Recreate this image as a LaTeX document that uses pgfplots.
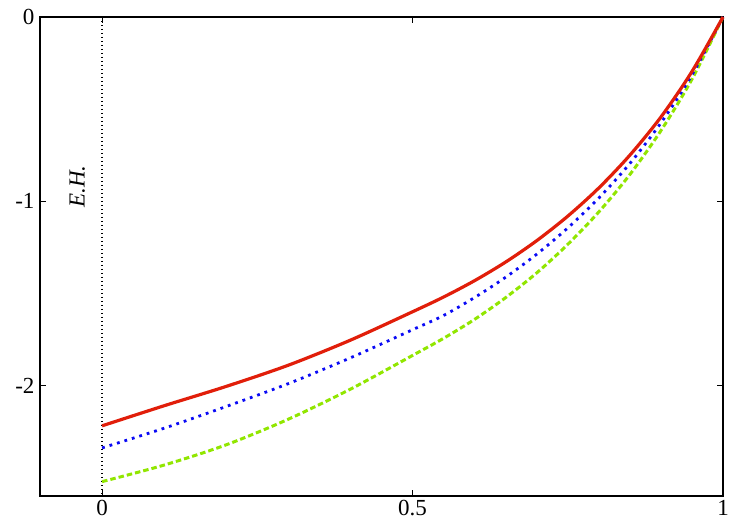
\documentclass[border=0pt]{standalone}
\usepackage{pgfplots}
\pgfplotsset{compat=1.18}
\usepackage{fontspec}
\setmainfont{Liberation Serif}
\definecolor{cred}{RGB}{225,30,10}
\definecolor{cblue}{RGB}{10,10,245}
\definecolor{cgreen}{RGB}{145,230,0}
\newcommand{\tklab}[1]{\fontsize{23}{27}\selectfont #1}
\begin{document}
\begin{tikzpicture}[x=1pt,y=1pt]
\begin{axis}[
  at={(0pt,0pt)}, anchor=south west,
  scale only axis, width=683pt, height=479pt,
  xmin=-0.1, xmax=1, ymin=-2.6, ymax=0,
  xtick={0,0.5,1}, ytick={-2,-1,0},
  xticklabels={\tklab{0},\tklab{0.5},\tklab{1}}, yticklabels={\tklab{-2},\tklab{-1},\tklab{0}},
  tick align=inside, major tick length=6pt,
  tick style={black, line width=1pt},
  axis line style={line width=1.2pt},
  /pgf/number format/assume math mode=true,
  xticklabel style={yshift=-1pt},
  yticklabel style={xshift=-2pt},
  clip=false,
]
\addplot[black, line width=1.3pt, dash pattern=on 1.3pt off 2.7pt] coordinates {(0,0) (0,-2.6)};
\node[rotate=90] at (axis cs:-0.040,-0.921) {\fontsize{23}{27}\selectfont\itshape E.H.};
\addplot[cgreen, line width=3pt, dash pattern=on 5.5pt off 3pt, smooth] coordinates {
(0,-2.522) (0.1,-2.432) (0.2,-2.322) (0.3,-2.183) (0.4,-2.02) (0.5,-1.837) (0.55,-1.744)
(0.6,-1.641) (0.65,-1.523) (0.7,-1.389) (0.75,-1.234) (0.8,-1.058) (0.85,-0.855)
(0.9,-0.617) (0.95,-0.338) (1,0)};
\addplot[cblue, line width=2.8pt, dash pattern=on 2.8pt off 5pt, smooth] coordinates {
(0,-2.339) (0.1,-2.232) (0.2,-2.114) (0.3,-1.99) (0.4,-1.85) (0.5,-1.6975) (0.55,-1.62)
(0.6,-1.5225) (0.65,-1.4125) (0.7,-1.2875) (0.75,-1.145) (0.8,-0.9825) (0.85,-0.795)
(0.9,-0.575) (0.95,-0.315) (1,0)};
\addplot[cred, line width=3.2pt, smooth] coordinates {
(0,-2.219) (0.1,-2.11) (0.2,-2.005) (0.3,-1.89) (0.4,-1.754) (0.5,-1.600) (0.55,-1.520)
(0.6,-1.431) (0.65,-1.330) (0.7,-1.214) (0.75,-1.081) (0.8,-0.928) (0.85,-0.75)
(0.9,-0.543) (0.95,-0.296) (1,0)};
\end{axis}
\path (-40pt,-29pt) rectangle (710pt,496pt);
\end{tikzpicture}
\end{document}
